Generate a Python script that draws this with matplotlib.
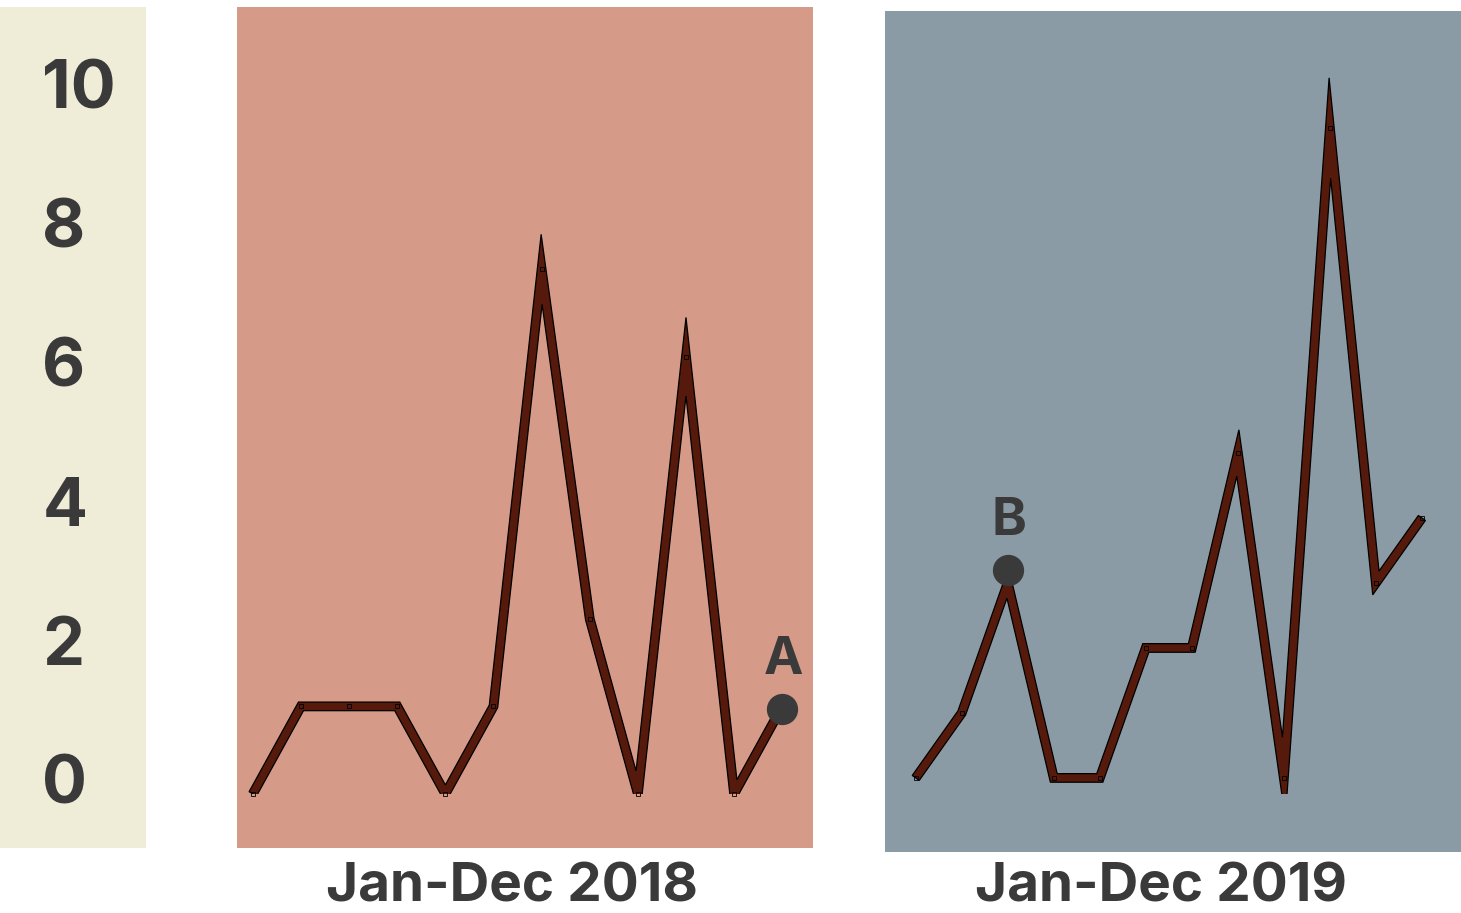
import numpy as np
import matplotlib.pyplot as plt
from matplotlib.patches import Polygon, Rectangle
from matplotlib.transforms import offset_copy

# monthly counts, Jan..Dec
months = list(range(12))
counts_2018 = [0, 1, 1, 1, 0, 1, 6, 2, 0, 5, 0, 1]
counts_2019 = [0, 1, 3, 0, 0, 2, 2, 5, 0, 10, 3, 4]
y_ticks = [0, 2, 4, 6, 8, 10]
titles = ["Jan-Dec 2018", "Jan-Dec 2019"]
# highlighted points: (label, month index)
callout_2018 = ("A", 11)
callout_2019 = ("B", 2)

ink = "#3a3a3a"
line_col = "#561a0c"
font = ["Inter", "DejaVu Sans"]

fig = plt.figure(figsize=(14.61, 9.13), dpi=100)

# left strip holding the y tick labels
ax_y = fig.add_axes([0.0, 0.0712, 0.0999, 0.9211])
ax_y.set_facecolor("#efecd8")
ax_y.set_ylim(-0.89, 11.21)
ax_y.set_xlim(0, 1)
for v in y_ticks:
    ax_y.text(0.29, v, str(v), ha="left", va="center", fontsize=48,
              fontweight="bold", color=ink, family=font)
ax_y.set_xticks([])
ax_y.set_yticks([])
for s in ax_y.spines.values():
    s.set_visible(False)


def stroke_outline(ax, xs, ys, half):
    """Outline of a thick polyline with unlimited miter joins (pixels -> data)."""
    p = ax.transData.transform(np.column_stack([xs, ys]))
    d = np.diff(p, axis=0)
    d /= np.linalg.norm(d, axis=1)[:, None]
    n = np.column_stack([-d[:, 1], d[:, 0]])
    left, right = [p[0] + n[0] * half], [p[0] - n[0] * half]
    for k in range(1, len(p) - 1):
        m = n[k - 1] + n[k]
        m /= np.linalg.norm(m)
        L = half / np.dot(m, n[k - 1])
        left.append(p[k] + m * L)
        right.append(p[k] - m * L)
    left.append(p[-1] + n[-1] * half)
    right.append(p[-1] - n[-1] * half)
    pts = np.vstack([left, right[::-1]])
    return ax.transData.inverted().transform(pts)


def panel(rect, bg, counts, ylim, xlim, clip_floor, title, title_x, callout, lift):
    ax = fig.add_axes(rect)
    ax.set_facecolor(bg)
    ax.set_ylim(*ylim)
    ax.set_xlim(*xlim)
    poly = Polygon(stroke_outline(ax, months, counts, 4.3), closed=True,
                   facecolor=line_col, edgecolor="black", lw=0.9,
                   joinstyle="miter", zorder=2)
    ax.add_patch(poly)
    clip = Rectangle((xlim[0], clip_floor), xlim[1] - xlim[0], ylim[1] - clip_floor,
                     transform=ax.transData)
    poly.set_clip_path(clip)
    # tiny hollow vertex markers
    ax.plot(months, counts, ls="none", marker="s", markersize=2.6,
            markerfacecolor="none", markeredgecolor="black", markeredgewidth=0.6,
            zorder=2.5)
    label, i = callout
    tr = offset_copy(ax.transData, fig=fig, x=0, y=lift, units="points")
    ax.plot(months[i], counts[i], "o", color=ink, markersize=21.5,
            transform=tr, zorder=3)
    ax.annotate(label, (months[i], counts[i]), xytext=(1, lift + 35),
                textcoords="offset points", ha="center", va="center",
                fontsize=38, fontweight="bold", color=ink, family=font)
    ax.set_xticks([])
    ax.set_yticks([])
    for s in ax.spines.values():
        s.set_visible(False)
    fig.text(title_x, 0.028, title, ha="center", va="center",
             fontsize=39.5, fontweight="bold", color=ink, family=font)
    return ax


panel([0.1622, 0.0712, 0.3943, 0.9211], "#d69a89", counts_2018,
      (-0.62, 9.0), (-0.33, 11.64), 0.0, titles[0], 0.3505, callout_2018, -2)
panel([0.6057, 0.0668, 0.3943, 0.9211], "#8a9ba5", counts_2019,
      (-1.14, 11.8), (-0.67, 11.85), -0.25, titles[1], 0.7945, callout_2019, 9)

fig.savefig("out.png", dpi=100)
